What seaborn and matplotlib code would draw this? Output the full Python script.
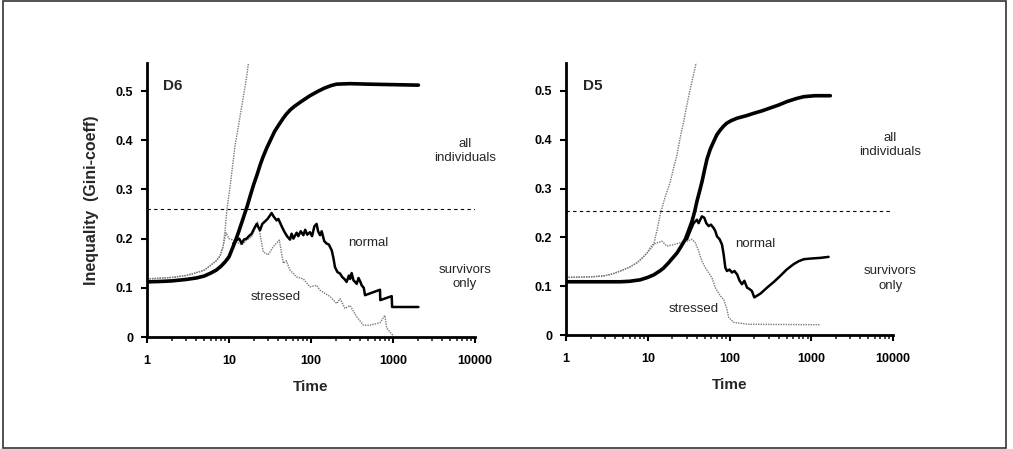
import matplotlib
matplotlib.use("Agg")
import matplotlib.pyplot as plt
import seaborn as sns
import pandas as pd
from matplotlib.patches import Rectangle
from matplotlib.ticker import LogLocator, FixedLocator, NullFormatter

# ---------------- data: panel D6 ----------------
d6_all_normal_t = [1, 1.5, 2, 3, 4, 5, 6, 7, 8, 9, 10, 11, 12, 13, 14, 15, 16.6, 18, 20, 22, 24, 26, 29, 32, 36, 41.5,
                   46, 50, 56, 63, 75, 96, 120, 146, 175, 205, 300, 500, 1000, 2040]
d6_all_normal_y = [0.112, 0.113, 0.114, 0.117, 0.120, 0.124, 0.130, 0.136, 0.144, 0.153, 0.163, 0.180, 0.196, 0.212, 0.228, 0.243,
                   0.265, 0.285, 0.31, 0.33, 0.35, 0.366, 0.385, 0.40, 0.418, 0.434, 0.445, 0.453, 0.462, 0.469, 0.478, 0.49,
                   0.499, 0.506, 0.511, 0.514, 0.515, 0.514, 0.513, 0.512]

d6_all_stressed_t = [1, 2, 3, 3.7, 5, 5.9, 7, 7.8, 8.5, 9, 9.4, 10.3, 11, 11.8, 12.6, 13.4, 14.5, 15.7, 16.6, 17.5]
d6_all_stressed_y = [0.118, 0.121, 0.125, 0.129, 0.136, 0.145, 0.155, 0.165, 0.185, 0.22, 0.258, 0.305, 0.345, 0.387, 0.415, 0.441,
                     0.475, 0.509, 0.535, 0.565]

d6_surv_normal_t = [11.3, 12.4, 13.3, 14.3, 15.2, 16.4, 17.5, 18.9, 20.2, 21.8, 23, 23.9, 25.5, 27.5, 29.5, 31, 33.1, 35, 38.1, 40,
                    43.9, 47, 51, 55.4, 58, 61, 66.8, 70, 75, 80.7, 85, 90, 97.2, 103, 110, 117, 122, 129, 135, 145,
                    155, 165, 179, 188, 196, 210, 226, 240, 255, 272, 290, 300, 313, 330, 345, 361, 380, 400, 415, 440,
                    456, 694, 700, 964, 975, 2040]
d6_surv_normal_y = [0.19, 0.197, 0.2, 0.19, 0.198, 0.2, 0.205, 0.21, 0.22, 0.23, 0.222, 0.217, 0.23, 0.235, 0.24, 0.245, 0.252, 0.245, 0.237, 0.24,
                    0.225, 0.215, 0.205, 0.198, 0.21, 0.2, 0.212, 0.205, 0.215, 0.207, 0.218, 0.208, 0.213, 0.205, 0.225, 0.23, 0.215, 0.207, 0.215, 0.195,
                    0.19, 0.188, 0.176, 0.16, 0.142, 0.132, 0.129, 0.122, 0.118, 0.112, 0.125, 0.118, 0.13, 0.115, 0.112, 0.108, 0.12, 0.112, 0.105, 0.1,
                    0.085, 0.096, 0.075, 0.083, 0.061, 0.061]

d6_surv_stressed_t = [1, 2, 3, 3.7, 5, 5.9, 7, 7.8, 8.5, 9.2, 10, 11.3, 14.3, 16.4, 18.9, 22.4, 26.2, 30.1, 34.7, 41.1,
                      46, 50, 55.4, 66.8, 80.7, 97.2, 117, 129, 171, 206, 226, 260, 299, 361, 435, 525, 694, 795, 838, 1000]
d6_surv_stressed_y = [0.118, 0.121, 0.125, 0.129, 0.136, 0.145, 0.155, 0.165, 0.185, 0.212, 0.2, 0.197, 0.187, 0.197, 0.204, 0.234, 0.173, 0.167, 0.184, 0.197,
                      0.15, 0.155, 0.136, 0.122, 0.118, 0.102, 0.105, 0.095, 0.082, 0.068, 0.078, 0.058, 0.064, 0.041, 0.024, 0.024, 0.029, 0.044, 0.018, 0.003]

# ---------------- data: panel D5 ----------------
d5_all_normal_t = [1, 2, 4.6, 6, 8.1, 10, 11.8, 14, 15.6, 18, 20, 22.8, 25.5, 28.8, 31.5, 34.8, 37.5, 40, 43, 46.1,
                   49.5, 53, 58, 64, 70, 77.3, 85, 93, 105, 124, 160, 198, 250, 316, 400, 505, 650, 808, 1100, 1711]
d5_all_normal_y = [0.109, 0.109, 0.109, 0.110, 0.113, 0.118, 0.123, 0.131, 0.137, 0.148, 0.157, 0.168, 0.181, 0.196, 0.213, 0.233,
                   0.253, 0.274, 0.294, 0.314, 0.338, 0.36, 0.38, 0.396, 0.41, 0.42, 0.428, 0.434, 0.439, 0.444, 0.449, 0.454,
                   0.459, 0.465, 0.471, 0.478, 0.484, 0.488, 0.49, 0.49]

d5_all_stressed_t = [1, 2, 2.9, 3.7, 4.6, 6, 7.4, 8.5, 9.8, 10.8, 11.8, 13, 14.2, 15.4, 16.5, 17.7, 18.9, 20.7, 22.8, 25,
                     27.5, 30, 33.2, 36.5, 40]
d5_all_stressed_y = [0.118, 0.119, 0.121, 0.125, 0.131, 0.139, 0.148, 0.157, 0.168, 0.176, 0.185, 0.215, 0.247, 0.268, 0.285, 0.3,
                     0.314, 0.342, 0.369, 0.405, 0.437, 0.47, 0.505, 0.535, 0.565]

d5_surv_normal_t = [30.2, 33.1, 36.4, 40, 41.9, 46, 49.2, 52, 55.6, 59.3, 64, 67, 70.3, 75.7, 81, 84.8, 88.9, 93.1, 100, 107,
                    115, 124, 133, 142, 152, 164, 176, 188, 201, 240, 288, 350, 418, 500, 608, 700, 805, 900, 1069, 1300, 1630]
d5_surv_normal_y = [0.196, 0.213, 0.229, 0.236, 0.229, 0.243, 0.24, 0.229, 0.223, 0.226, 0.219, 0.213, 0.202, 0.196, 0.185, 0.165, 0.138, 0.131, 0.134, 0.128,
                    0.131, 0.124, 0.111, 0.104, 0.111, 0.097, 0.094, 0.09, 0.077, 0.085, 0.097, 0.109, 0.121, 0.134, 0.145, 0.151, 0.155, 0.156,
                    0.157, 0.158, 0.16]

d5_surv_stressed_t = [1, 2, 2.9, 3.7, 4.6, 6, 7.4, 8.5, 9.8, 11.3, 14.9, 17.2, 20.7, 25, 30.2, 34.8, 38.2, 41.9, 46, 50.6,
                      61.1, 67, 77.3, 84.8, 93.1, 97.7, 112, 164, 1290]
d5_surv_stressed_y = [0.118, 0.119, 0.121, 0.125, 0.131, 0.139, 0.148, 0.157, 0.168, 0.185, 0.192, 0.182, 0.185, 0.189, 0.192, 0.196, 0.189, 0.172, 0.151, 0.138,
                      0.117, 0.097, 0.08, 0.073, 0.053, 0.036, 0.026, 0.022, 0.021]

d6_threshold = 0.26
d5_threshold = 0.253

x_ticks = [1, 10, 100, 1000, 10000]
x_tick_labels = ["1", "10", "100", "1000", "10000"]
y_ticks = [0, 0.1, 0.2, 0.3, 0.4, 0.5]
y_tick_labels = ["0", "0.1", "0.2", "0.3", "0.4", "0.5"]

# ---------------- style ----------------
sns.set_style("white")
plt.rcParams["font.family"] = ["Liberation Sans", "DejaVu Sans"]

W, H = 1013, 449
fig = plt.figure(figsize=(W / 100, H / 100), dpi=100)

def fx(px):
    return px / W

def fy(py):
    return 1 - py / H

ax1 = fig.add_axes([fx(147), fy(337), fx(475) - fx(147), fy(63) - fy(337)])
ax2 = fig.add_axes([fx(566), fy(335), fx(893) - fx(566), fy(63) - fy(335)])

def line(ax, t, y, **kw):
    df = pd.DataFrame({"t": t, "y": y})
    sns.lineplot(data=df, x="t", y="y", ax=ax, sort=False, estimator=None, **kw)

panels = [
    (ax1, d6_all_normal_t, d6_all_normal_y, d6_all_stressed_t, d6_all_stressed_y,
     d6_surv_normal_t, d6_surv_normal_y, d6_surv_stressed_t, d6_surv_stressed_y, d6_threshold),
    (ax2, d5_all_normal_t, d5_all_normal_y, d5_all_stressed_t, d5_all_stressed_y,
     d5_surv_normal_t, d5_surv_normal_y, d5_surv_stressed_t, d5_surv_stressed_y, d5_threshold),
]

for (ax, ant, any_, ast, asy, snt, sny, sst, ssy, thr) in panels:
    ax.set_xscale("log")
    ax.set_xlim(1, 10000)
    ax.set_ylim(0, 0.557)
    ax.plot([1, 10000], [thr, thr], color="black", lw=0.8, ls=(0, (3, 3)))
    line(ax, ast, asy, color="#7a7a7a", lw=1.0, linestyle=(0, (1, 0.8)))
    line(ax, sst, ssy, color="#7a7a7a", lw=1.0, linestyle=(0, (1, 0.8)))
    line(ax, ant, any_, color="black", lw=2.6)
    line(ax, snt, sny, color="black", lw=1.8)

    for s in ["top", "right"]:
        ax.spines[s].set_visible(False)
    for s in ["left", "bottom"]:
        ax.spines[s].set_color("black")
        ax.spines[s].set_linewidth(2.0)

    ax.xaxis.set_major_locator(FixedLocator(x_ticks))
    ax.set_xticklabels(x_tick_labels)
    ax.xaxis.set_minor_locator(LogLocator(base=10, subs=range(2, 10), numticks=20))
    ax.xaxis.set_minor_formatter(NullFormatter())
    ax.set_yticks(y_ticks)
    ax.set_yticklabels(y_tick_labels)
    ax.tick_params(axis="x", which="major", direction="out", length=4, width=1.5, pad=9,
                   labelsize=9, colors="black", bottom=True)
    ax.tick_params(axis="x", which="minor", direction="out", length=3, width=1.2, bottom=True)
    ax.tick_params(axis="y", which="major", direction="out", length=4, width=1.5, pad=6,
                   labelsize=9, colors="black", left=True)
    for lab in ax.get_xticklabels() + ax.get_yticklabels():
        lab.set_fontweight("bold")

    ax.set_xlabel("Time", fontsize=11, fontweight="bold", labelpad=9)
    ax.grid(False)
    ax.set_facecolor("white")

ax1.set_ylabel("Inequality  (Gini-coeff)", fontsize=11.5, fontweight="bold", labelpad=12)
ax2.set_ylabel("")

# annotations
ax1.text(1.55, 0.51, "D6", fontsize=11, fontweight="bold", ha="left", va="center")
ax1.text(7560, 0.378, "all\nindividuals", fontsize=9.5, ha="center", va="center", linespacing=1.3)
ax1.text(495, 0.191, "normal", fontsize=9.5, ha="center", va="center")
ax1.text(7560, 0.122, "survivors\nonly", fontsize=9.5, ha="center", va="center", linespacing=1.3)
ax1.text(37.4, 0.081, "stressed", fontsize=9.5, ha="center", va="center")

ax2.text(1.6, 0.51, "D5", fontsize=11, fontweight="bold", ha="left", va="center")
ax2.text(9300, 0.389, "all\nindividuals", fontsize=9.5, ha="center", va="center", linespacing=1.3)
ax2.text(206, 0.187, "normal", fontsize=9.5, ha="center", va="center")
ax2.text(9300, 0.116, "survivors\nonly", fontsize=9.5, ha="center", va="center", linespacing=1.3)
ax2.text(36, 0.054, "stressed", fontsize=9.5, ha="center", va="center")

for ax in (ax1, ax2):
    for t in ax.texts:
        t.set_clip_on(False)

# outer frame
fig.patches.append(Rectangle((fx(3), fy(448)), fx(1006) - fx(3), fy(1) - fy(448),
                             transform=fig.transFigure, fill=False, edgecolor="#333333", lw=1.2))

fig.savefig("out.png", dpi=100, facecolor="white")
